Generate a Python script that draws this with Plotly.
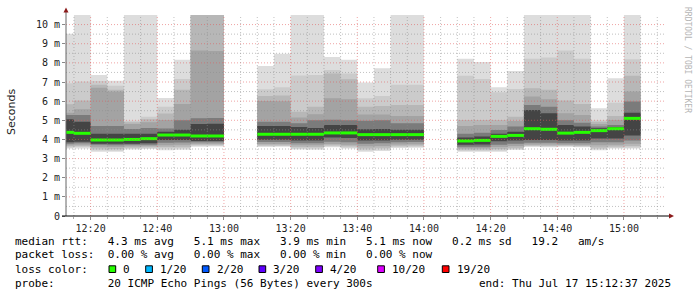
import plotly.graph_objects as go
import pandas as pd

DAY = "2025-07-17 "
N = None

# ---- data: 5-minute steps (end time of each step) ----
step_end = ["12:15", "12:20", "12:25", "12:30", "12:35", "12:40", "12:45", "12:50", "12:55", "13:00",
            "13:05", "13:10", "13:15", "13:20", "13:25", "13:30", "13:35", "13:40", "13:45", "13:50",
            "13:55", "14:00", "14:05", "14:10", "14:15", "14:20", "14:25", "14:30", "14:35", "14:40",
            "14:45", "14:50", "14:55", "15:00", "15:05"]

# smoke band edges in ms (outermost band first)
hi1 = [9.52, 11.5, 7.37, 7.06, 11.5, 11.5, 6.17, 8.16, 11.5, 11.5, N, N, 7.84, 8.47, 11.5, 11.5, 8.30, 8.16,
       6.97, 7.72, 11.5, 11.5, N, N, 8.21, 8.04, 6.73, 7.58, 11.5, 11.5, 11.5, 11.5, 5.63, 7.20, 11.5]
hi2 = [6.94, 7.02, 7.05, 6.80, 4.98, 5.19, 5.71, 7.16, 11.2, 11.2, N, N, 6.62, 6.72, 7.34, 7.37, 7.63, 7.45,
       6.15, 6.27, 6.85, 6.85, N, N, 7.32, 7.16, 6.46, 6.64, 8.21, 8.28, 8.64, 8.21, 5.00, 5.92, 8.19]
hi3 = [5.84, 6.03, 6.85, 6.59, 4.90, 5.05, 5.36, 6.60, 11.0, 11.0, N, N, 6.27, 6.30, 5.45, 5.71, 7.45, 7.15,
       5.71, 5.75, 5.80, 5.80, N, N, 5.02, 5.02, 5.02, 5.19, 6.68, 6.59, 6.03, 5.85, 4.93, 5.23, 7.32]
hi4 = [5.40, 5.57, 6.70, 6.50, 4.80, 4.90, 5.01, 5.85, 8.64, 8.62, N, N, 6.01, 6.00, 5.15, 5.32, 6.15, 6.10,
       5.30, 5.30, 5.22, 5.22, N, N, 4.70, 4.75, 4.75, 4.96, 6.24, 6.10, 5.37, 5.28, 4.80, 5.02, 6.50]
hi5 = [5.28, 5.28, 4.70, 4.70, 4.55, 4.60, 4.57, 5.00, 5.10, 5.12, N, N, 4.93, 4.93, 4.85, 5.00, 5.03, 5.00,
       4.98, 5.00, 4.85, 4.85, N, N, 4.30, 4.35, 4.49, 4.67, 5.80, 5.71, 5.00, 4.87, 4.67, 4.75, 5.98]
hi6 = [5.05, 4.93, 4.30, 4.30, 4.30, 4.30, 4.40, 4.50, 4.80, 4.82, N, N, 4.70, 4.70, 4.65, 4.60, 4.75, 4.75,
       4.53, 4.55, 4.50, 4.50, N, N, 4.10, 4.15, 4.30, 4.40, 5.54, 5.37, 4.75, 4.67, 4.58, 4.65, 5.40]
median = [4.37, 4.32, 3.97, 3.97, 4.00, 4.04, 4.23, 4.23, 4.18, 4.18, N, N, 4.27, 4.27, 4.27, 4.27, 4.34, 4.34,
          4.25, 4.25, 4.25, 4.25, N, N, 3.92, 3.95, 4.16, 4.21, 4.56, 4.53, 4.33, 4.37, 4.46, 4.56, 5.10]
lo6 = [3.85, 3.88, 3.78, 3.78, 3.78, 3.80, 3.97, 3.97, 3.92, 3.92, N, N, 3.98, 3.98, 3.95, 3.95, 4.10, 4.08,
       3.95, 3.95, 3.98, 3.98, N, N, 3.72, 3.74, 3.90, 3.95, 3.97, 3.97, 3.95, 3.95, 4.05, 4.05, 4.20]
lo5 = [3.78, 3.80, 3.72, 3.70, 3.72, 3.72, 3.82, 3.84, 3.85, 3.85, N, N, 3.86, 3.86, 3.80, 3.80, 3.88, 3.85,
       3.78, 3.80, 3.85, 3.86, N, N, 3.62, 3.62, 3.72, 3.78, 3.82, 3.82, 3.80, 3.80, 3.85, 3.85, 3.95]
lo4 = [3.70, 3.72, 3.62, 3.60, 3.65, 3.66, 3.70, 3.72, 3.78, 3.78, N, N, 3.76, 3.76, 3.70, 3.70, 3.76, 3.72,
       3.64, 3.66, 3.74, 3.75, N, N, 3.54, 3.54, 3.60, 3.66, 3.74, 3.74, 3.72, 3.71, 3.70, 3.72, 3.78]
lo3 = [3.64, 3.66, 3.52, 3.50, 3.58, 3.60, 3.60, 3.62, 3.72, 3.72, N, N, 3.70, 3.70, 3.60, 3.60, 3.70, 3.64,
       3.52, 3.56, 3.67, 3.68, N, N, 3.47, 3.47, 3.50, 3.57, 3.68, 3.67, 3.68, 3.66, 3.58, 3.63, 3.66]
lo2 = [3.58, 3.60, 3.43, 3.42, 3.52, 3.55, 3.52, 3.54, 3.67, 3.67, N, N, 3.65, 3.66, 3.53, 3.52, 3.64, 3.58,
       3.44, 3.47, 3.60, 3.62, N, N, 3.41, 3.41, 3.42, 3.50, 3.65, 3.63, 3.65, 3.62, 3.50, 3.57, 3.58]
lo1 = [3.53, 3.53, 3.36, 3.36, 3.48, 3.50, 3.44, 3.46, 3.62, 3.63, N, N, 3.62, 3.62, 3.48, 3.46, 3.59, 3.53,
       3.36, 3.40, 3.55, 3.57, N, N, 3.36, 3.36, 3.36, 3.45, 3.62, 3.59, 3.62, 3.59, 3.44, 3.52, 3.53]

y_tick_vals = [0, 1, 2, 3, 4, 5, 6, 7, 8, 9, 10]
y_tick_text = ["0", "1 m", "2 m", "3 m", "4 m", "5 m", "6 m", "7 m", "8 m", "9 m", "10 m"]

loss_labels = ["0", "1/20", "2/20", "3/20", "4/20", "10/20", "19/20"]
loss_colors = ["#26ff00", "#00b8ff", "#0059ff", "#5e00ff", "#7e00ff", "#dd00ff", "#ff0000"]

legend_line1 = "median rtt:   4.3 ms avg   5.1 ms max   3.9 ms min   5.1 ms now   0.2 ms sd   19.2   am/s"
legend_line2 = "packet loss:  0.00 % avg   0.00 % max   0.00 % min   0.00 % now"
legend_line3 = "loss color:"
legend_line4a = "probe:        20 ICMP Echo Pings (56 Bytes) every 300s"
legend_line4b = "end: Thu Jul 17 15:12:37 2025"
x_start, x_end = DAY + "12:12:37", DAY + "15:12:37"

# ---- geometry helpers ----
W, H = 697, 297
ML, MR, MT, MB = 66, 31, 15, 81
PW, PH = W - ML - MR, H - MT - MB


def xp(px):
    return (px - ML) / PW


def yp(py):
    return (MT + PH - py) / PH


ends = pd.to_datetime([DAY + t for t in step_end])
starts = ends - pd.Timedelta(minutes=5)

# contiguous blocks of data
blocks, cur = [], []
for i, m in enumerate(median):
    if m is None:
        if cur:
            blocks.append(cur)
        cur = []
    else:
        cur.append(i)
if cur:
    blocks.append(cur)

fig = go.Figure()


def step_xy(idx, vals):
    xs = [starts[i] for i in idx] + [ends[idx[-1]]]
    ys = [vals[i] for i in idx] + [vals[idx[-1]]]
    return xs, ys


bands = [(lo1, hi1, "#dddddd"), (lo2, hi2, "#cbcbcb"), (lo3, hi3, "#b7b7b7"),
         (lo4, hi4, "#a3a3a3"), (lo5, hi5, "#7b7b7b"), (lo6, hi6, "#444444")]
for lo, hi, col in bands:
    for idx in blocks:
        xl, yl = step_xy(idx, lo)
        xh, yh = step_xy(idx, hi)
        fig.add_trace(go.Scatter(x=xl, y=yl, mode="lines", line=dict(width=0, shape="hv"),
                                 hoverinfo="skip", showlegend=False))
        fig.add_trace(go.Scatter(x=xh, y=yh, mode="lines", line=dict(width=0, shape="hv"),
                                 fill="tonexty", fillcolor=col, hoverinfo="skip", showlegend=False))

# median: one horizontal segment per step
mx, my = [], []
for i, m in enumerate(median):
    if m is None:
        continue
    mx += [starts[i], ends[i], None]
    my += [m, m, None]
fig.add_trace(go.Scatter(x=mx, y=my, mode="lines", line=dict(color="#26ff00", width=3),
                         hoverinfo="skip", showlegend=False))

shapes = []
# grid above the smoke
v = 0.5
while v < 10.5:
    major = abs(v - round(v)) < 1e-9
    shapes.append(dict(type="line", xref="paper", yref="y", x0=0, x1=1, y0=v, y1=v, layer="above",
                       line=dict(color="rgba(225,90,90,0.55)" if major else "rgba(140,140,140,0.55)",
                                 width=1, dash="1px,2px")))
    v += 0.5
t = pd.Timestamp(DAY + "12:15")
while t <= pd.Timestamp(x_end):
    major = t.minute % 20 == 0
    shapes.append(dict(type="line", xref="x", yref="paper", x0=t, x1=t, y0=0, y1=1, layer="above",
                       line=dict(color="rgba(225,90,90,0.55)" if major else "rgba(140,140,140,0.55)",
                                 width=1, dash="1px,2px")))
    t += pd.Timedelta(minutes=5)

# axes lines and arrows
shapes.append(dict(type="line", xref="paper", yref="paper", x0=xp(66), x1=xp(66), y0=yp(216), y1=yp(10),
                   line=dict(color="#666666", width=1), layer="above"))
shapes.append(dict(type="line", xref="paper", yref="paper", x0=xp(62), x1=xp(670), y0=yp(216), y1=yp(216),
                   line=dict(color="#000000", width=1), layer="above"))
shapes.append(dict(type="path", xref="paper", yref="paper",
                   path=f"M {xp(63.5)} {yp(12.5)} L {xp(68.5)} {yp(12.5)} L {xp(66)} {yp(7.5)} Z",
                   fillcolor="#8b1a1a", line=dict(width=0), layer="above"))
shapes.append(dict(type="path", xref="paper", yref="paper",
                   path=f"M {xp(669)} {yp(213.5)} L {xp(669)} {yp(218.5)} L {xp(674)} {yp(216)} Z",
                   fillcolor="#8b1a1a", line=dict(width=0), layer="above"))

# legend squares
sq_x = [109, 145.7, 202.3, 259, 315.7, 377.7, 442.3]
txt_x = [122.3, 159.0, 215.7, 272.3, 329.0, 391.3, 455.8]
for sx, c in zip(sq_x, loss_colors):
    shapes.append(dict(type="rect", xref="paper", yref="paper", x0=xp(sx), x1=xp(sx + 6.7),
                       y0=yp(272.5), y1=yp(265.8), fillcolor=c, line=dict(color="#000000", width=1)))

MONO = "DejaVu Sans Mono"
ann = []


def txt(s, x, y, size=11, color="#000000", family=MONO, angle=0, xanchor="left"):
    ann.append(dict(text=s.replace(" ", "\u00a0"), x=xp(x), y=yp(y), xref="paper", yref="paper",
                    xanchor=xanchor, yanchor="middle", showarrow=False, textangle=angle, borderpad=0,
                    font=dict(family=family, size=size, color=color)))


txt(legend_line1, 14.2, 241)
txt(legend_line2, 14.2, 255)
txt(legend_line3, 14.2, 269)
for tx, lab in zip(txt_x, loss_labels):
    txt(lab, tx, 269)
txt(legend_line4a, 14.2, 283)
txt(legend_line4b, 477.5, 283)
txt("Seconds", 11, 112, size=11, color="#222222", family="DejaVu Sans", angle=-90, xanchor="center")
txt("RRDTOOL / TOBI OETIKER", 687, 60, size=8, color="#b5b5b5", angle=90, xanchor="center")

fig.update_layout(
    width=W, height=H, margin=dict(l=ML, r=MR, t=MT, b=MB, pad=0),
    paper_bgcolor="white", plot_bgcolor="white",
    showlegend=False, shapes=shapes, annotations=ann,
    xaxis=dict(type="date", range=[x_start, x_end], tick0=DAY + "12:00", dtick=1200000,
               tickformat="%H:%M", showgrid=False, zeroline=False, showline=False,
               ticks="outside", ticklen=3, tickcolor="#888888",
               tickfont=dict(family=MONO, size=10, color="#222222"),
               minor=dict(ticks="outside", ticklen=2, dtick=300000, tickcolor="#aaaaaa", showgrid=False)),
    yaxis=dict(range=[0, 10.5], tickmode="array", tickvals=y_tick_vals, ticktext=y_tick_text,
               showgrid=False, zeroline=False, showline=False, ticks="outside", ticklen=3,
               tickcolor="#888888", tickfont=dict(family=MONO, size=10, color="#222222")),
)

fig.write_html("out.html")
